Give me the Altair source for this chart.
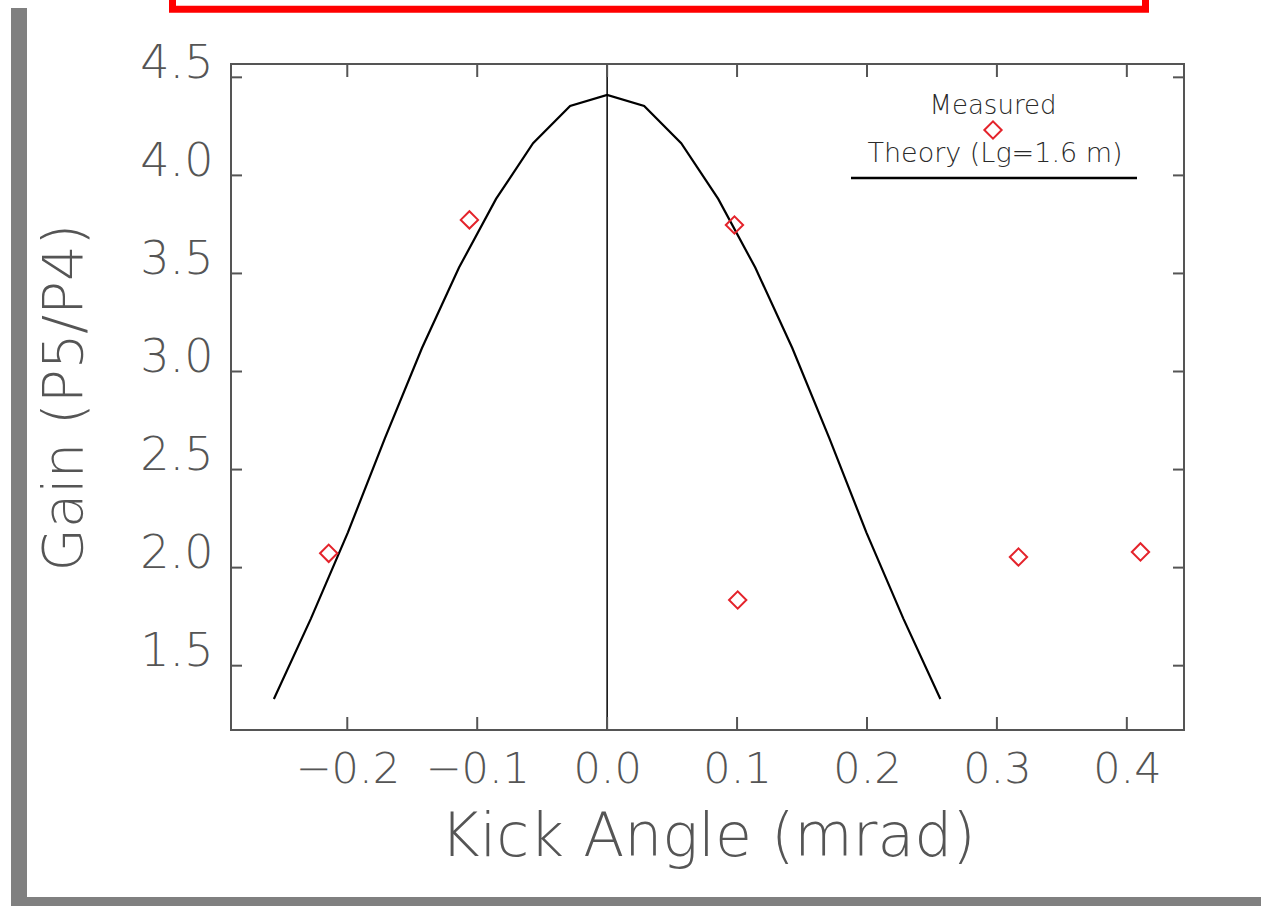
import altair as alt
import pandas as pd

# Theory curve (Lg = 1.6 m): kick angle in mrad and gain P5/P4
theory_x = [-0.2565, -0.228, -0.1995, -0.171, -0.1425, -0.114, -0.0855, -0.057, -0.0285,
            0.0, 0.0285, 0.057, 0.0855, 0.114, 0.1425, 0.171, 0.1995, 0.228, 0.2565]
theory_gain = [1.33, 1.74, 2.18, 2.66, 3.12, 3.53, 3.88, 4.164, 4.354,
               4.41, 4.354, 4.164, 3.88, 3.53, 3.12, 2.66, 2.18, 1.74, 1.33]

# Measured gain
meas_x = [-0.2143, -0.106, 0.098, 0.1005, 0.3166, 0.4105]
meas_gain = [2.073, 3.773, 3.747, 1.835, 2.054, 2.080]

x_ticks = [-0.2, -0.1, 0.0, 0.1, 0.2, 0.3, 0.4]
y_ticks = [1.5, 2.0, 2.5, 3.0, 3.5, 4.0, 4.5]

x_title = "Kick Angle (mrad)"
y_title = "Gain (P5/P4)"
legend_measured = "Measured"
legend_theory = "Theory (Lg=1.6 m)"

W, H = 953, 666
FONT = "DejaVu Sans"
GREY = "#555555"
RED = "#e4232b"

x_scale = alt.Scale(domain=[-0.2895, 0.444], nice=False, zero=False)
y_scale = alt.Scale(domain=[1.172, 4.568], nice=False, zero=False)

x_axis = alt.Axis(
    values=x_ticks, format=".1f", ticks=False, tickSize=0, domain=False, grid=False,
    labelFont=FONT, labelFontSize=43, labelFontWeight=200, labelColor=GREY,
    labelBaseline="alphabetic", labelPadding=52, labelFlush=False, labelOverlap=False,
    title=x_title, titleFont=FONT, titleFontSize=60, titleFontWeight=200, titleColor=GREY,
    titleX=W / 2, titleY=125, titleBaseline="alphabetic", titleAlign="center",
)
y_axis = alt.Axis(
    values=y_ticks, format=".1f", ticks=False, tickSize=0, domain=False, grid=False,
    labelFont=FONT, labelFontSize=46, labelFontWeight=200, labelColor=GREY,
    labelBaseline="alphabetic", labelPadding=18, labelFlush=False, labelOverlap=False,
    title=y_title, titleFont=FONT, titleFontSize=56, titleFontWeight=200, titleColor=GREY,
    titleAngle=270, titleX=-150, titleY=H / 2, titleBaseline="alphabetic", titleAlign="center",
)


def xq(field):
    return alt.X(field, type="quantitative", scale=x_scale, axis=x_axis)


def yq(field):
    return alt.Y(field, type="quantitative", scale=y_scale, axis=y_axis)


theory_df = pd.DataFrame({"x": theory_x, "gain": theory_gain})
meas_df = pd.DataFrame({"x": meas_x, "gain": meas_gain})
xt_df = pd.DataFrame({"x": x_ticks})
yt_df = pd.DataFrame({"gain": y_ticks})
one = pd.DataFrame({"k": [0]})

theory = alt.Chart(theory_df).mark_line(color="black", strokeWidth=2.2).encode(
    x=xq("x"), y=yq("gain"),
)

measured = alt.Chart(meas_df).mark_point(
    shape="diamond", filled=False, color=RED, size=300, strokeWidth=2, opacity=1
).encode(x=xq("x"), y=yq("gain"))

zero_line = alt.Chart(pd.DataFrame({"x": [0.0]})).mark_rule(color="black", strokeWidth=1.5).encode(
    x=xq("x")
)

# inward ticks on all four sides of the frame
tick_style = dict(color=GREY, strokeWidth=2)
xt_bottom = alt.Chart(xt_df).mark_rule(**tick_style).encode(
    x=xq("x"), y=alt.value(H), y2=alt.value(H - 13))
xt_top = alt.Chart(xt_df).mark_rule(**tick_style).encode(
    x=xq("x"), y=alt.value(0), y2=alt.value(13))
yt_left = alt.Chart(yt_df).mark_rule(**tick_style).encode(
    y=yq("gain"), x=alt.value(0), x2=alt.value(11))
yt_right = alt.Chart(yt_df).mark_rule(**tick_style).encode(
    y=yq("gain"), x=alt.value(W - 11), x2=alt.value(W))

# legend block
leg_meas_text = alt.Chart(one).mark_text(
    text=legend_measured, font=FONT, fontSize=26, fontWeight=300, color="#2a2a2a",
    align="center", baseline="alphabetic"
).encode(x=alt.value(762), y=alt.value(50))
leg_meas_sym = alt.Chart(one).mark_point(
    shape="diamond", filled=False, color=RED, size=300, strokeWidth=2, opacity=1
).encode(x=alt.value(762), y=alt.value(66))
leg_theory_text = alt.Chart(one).mark_text(
    text=legend_theory, font=FONT, fontSize=27, fontWeight=300, color="#2a2a2a",
    align="center", baseline="alphabetic"
).encode(x=alt.value(764), y=alt.value(98))
leg_theory_line = alt.Chart(one).mark_rule(color="black", strokeWidth=2.5).encode(
    x=alt.value(620), x2=alt.value(906), y=alt.value(114))

# page decorations: grey corner bars and red banner outline
grey_left = alt.Chart(one).mark_rect(color="#808080").encode(
    x=alt.value(-220), x2=alt.value(-204), y=alt.value(-56), y2=alt.value(842))
grey_bottom = alt.Chart(one).mark_rect(color="#808080").encode(
    x=alt.value(-220), x2=alt.value(1030), y=alt.value(833), y2=alt.value(842))
red_box = alt.Chart(one).mark_rect(fillOpacity=0, stroke="#ff0000", strokeWidth=7).encode(
    x=alt.value(-58.5), x2=alt.value(914.5), y=alt.value(-94), y2=alt.value(-54.7))

chart = alt.layer(
    theory, zero_line, measured,
    xt_bottom, xt_top, yt_left, yt_right,
    leg_meas_text, leg_meas_sym, leg_theory_text, leg_theory_line,
    grey_left, grey_bottom, red_box,
).properties(
    width=W, height=H,
    autosize=alt.AutoSizeParams(type="none"),
    padding={"left": 231, "top": 64, "right": 77, "bottom": 176},
    background="white",
).configure_view(stroke="#555555", strokeWidth=2)

chart.save("out.html", embed_options={"renderer": "svg", "actions": False})
